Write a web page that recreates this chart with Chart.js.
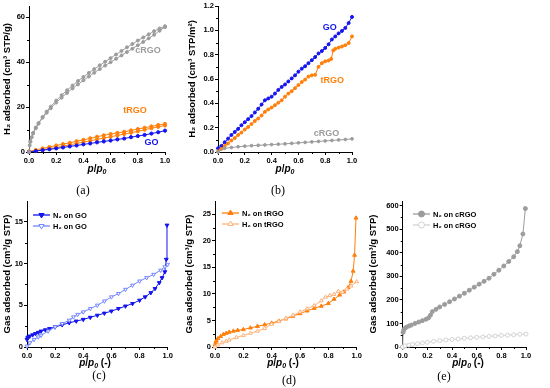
<!DOCTYPE html>
<html>
<head>
<meta charset="utf-8">
<script src="https://cdn.jsdelivr.net/npm/chart.js@4.4.0/dist/chart.umd.min.js"></script>
<style>
  body { margin: 0; background: #fff; width: 550px; height: 388px; position: relative; overflow: hidden;
         font-family: "Liberation Sans", Arial, sans-serif; }
  canvas { position: absolute; }
  .xt { position: absolute; font-weight: bold; font-size: 10px; line-height: 10px; white-space: nowrap;
        transform: translate(-50%, -50%); }
  .xt sub { font-size: 7px; vertical-align: -2px; }
  .cap { position: absolute; font-family: "Liberation Serif", serif; font-size: 12px; transform: translate(-50%, -50%); }
</style>
</head>
<body>
<canvas id="ca" width="175" height="163" style="left:0;top:0"></canvas>
<canvas id="cb" width="177" height="163" style="left:185px;top:0"></canvas>
<canvas id="cc" width="178" height="163" style="left:0;top:195px"></canvas>
<canvas id="cd" width="184" height="163" style="left:182px;top:195px"></canvas>
<canvas id="ce" width="170" height="163" style="left:366px;top:195px"></canvas>

<div class="xt" style="left:97px;top:170px"><i>p</i>/<i>p</i><sub><i>0</i></sub></div>
<div class="xt" style="left:285px;top:170px"><i>p</i>/<i>p</i><sub><i>0</i></sub></div>
<div class="xt" style="left:95px;top:364px"><i>p</i>/<i>p</i><sub><i>0</i></sub> (-)</div>
<div class="xt" style="left:283px;top:364px"><i>p</i>/<i>p</i><sub><i>0</i></sub> (-)</div>
<div class="xt" style="left:468px;top:364px"><i>p</i>/<i>p</i><sub><i>0</i></sub> (-)</div>

<div class="cap" style="left:83px;top:190px">(a)</div>
<div class="cap" style="left:278px;top:190px">(b)</div>
<div class="cap" style="left:99px;top:375px">(c)</div>
<div class="cap" style="left:289px;top:380px">(d)</div>
<div class="cap" style="left:444px;top:376px">(e)</div>

<script>
// --- dados ---

// tiques
const xTicks = [0, 0.2, 0.4, 0.6, 0.8, 1.0];
const aYTicks = [0, 20, 40, 60];
const bYTicks = [0, 0.2, 0.4, 0.6, 0.8, 1.0, 1.2];
const cYTicks = [0, 5, 10, 15];
const dYTicks = [0, 5, 10, 15, 20, 25];
const eYTicks = [0, 100, 200, 300, 400, 500, 600];

// (a) H2 em cm3 STP/g
const aCrgoAdsX = [0, 0.005, 0.01, 0.02, 0.03, 0.05, 0.07, 0.1, 0.13, 0.16, 0.2, 0.24, 0.28, 0.32, 0.36, 0.4, 0.44, 0.48, 0.52, 0.56, 0.6, 0.64, 0.68, 0.72, 0.76, 0.8, 0.84, 0.88, 0.92, 0.96, 1.0];
const aCrgoAdsY = [0, 3.0, 4.5, 6.6, 8.2, 10.6, 12.6, 15.3, 17.5, 19.5, 22.0, 24.2, 26.3, 28.3, 30.1, 31.9, 33.6, 35.3, 36.9, 38.5, 40.0, 41.5, 43.0, 44.5, 46.0, 47.5, 49.0, 50.6, 52.2, 54.0, 55.6];
const aCrgoDesX = [1.0, 0.96, 0.92, 0.88, 0.84, 0.8, 0.76, 0.72, 0.68, 0.64, 0.6, 0.56, 0.52, 0.48, 0.44, 0.4, 0.36, 0.32, 0.28, 0.24, 0.2, 0.16, 0.13, 0.1, 0.07, 0.05, 0.03, 0.01];
const aCrgoDesY = [56.0, 55.0, 53.8, 52.4, 51.0, 49.6, 48.1, 46.6, 45.0, 43.4, 41.8, 40.2, 38.6, 36.9, 35.2, 33.4, 31.6, 29.6, 27.5, 25.3, 22.9, 20.2, 18.0, 15.6, 12.9, 10.9, 8.5, 4.8];
const aX = [0, 0.05, 0.1, 0.15, 0.2, 0.25, 0.3, 0.35, 0.4, 0.45, 0.5, 0.55, 0.6, 0.65, 0.7, 0.75, 0.8, 0.85, 0.9, 0.95, 1.0];
const aTrgoY = [0.1, 0.5, 1.0, 1.5, 2.0, 2.6, 3.2, 3.8, 4.4, 5.0, 5.6, 6.2, 6.8, 7.4, 8.0, 8.6, 9.2, 9.9, 10.6, 11.2, 11.8];
const aTrgoDesY = [0.3, 0.9, 1.6, 2.2, 2.9, 3.5, 4.1, 4.8, 5.4, 6.1, 6.8, 7.4, 8.0, 8.5, 9.0, 9.6, 10.2, 10.8, 11.4, 12.0, 12.5];
const aGoY = [0, 0.4, 0.8, 1.2, 1.6, 2.0, 2.5, 2.9, 3.4, 3.8, 4.3, 4.7, 5.1, 5.6, 6.0, 6.6, 7.1, 7.6, 8.2, 8.8, 9.5];

// (b) H2 em cm3 STP/m2
const bGoX = [0, 0.025, 0.05, 0.075, 0.1, 0.125, 0.15, 0.175, 0.2, 0.225, 0.25, 0.275, 0.3, 0.325, 0.35, 0.375, 0.4, 0.425, 0.45, 0.475, 0.5, 0.525, 0.55, 0.575, 0.6, 0.625, 0.65, 0.675, 0.7, 0.725, 0.75, 0.775, 0.8, 0.825, 0.85, 0.875, 0.9, 0.925, 0.95, 0.975, 1.0];
const bGoY = [0.03, 0.05, 0.08, 0.11, 0.14, 0.165, 0.19, 0.22, 0.245, 0.27, 0.295, 0.325, 0.355, 0.39, 0.425, 0.44, 0.455, 0.48, 0.51, 0.535, 0.555, 0.58, 0.605, 0.63, 0.66, 0.685, 0.705, 0.73, 0.755, 0.78, 0.81, 0.83, 0.855, 0.885, 0.925, 0.95, 0.975, 0.995, 1.02, 1.06, 1.11];
const bTrgoX = [0, 0.025, 0.05, 0.075, 0.1, 0.125, 0.15, 0.175, 0.2, 0.225, 0.25, 0.275, 0.3, 0.325, 0.35, 0.375, 0.4, 0.425, 0.45, 0.475, 0.5, 0.525, 0.55, 0.575, 0.6, 0.625, 0.65, 0.675, 0.7, 0.725, 0.75, 0.775, 0.8, 0.825, 0.845, 0.86, 0.875, 0.9, 0.925, 0.95, 0.975, 1.0];
const bTrgoY = [0.005, 0.025, 0.05, 0.07, 0.095, 0.115, 0.14, 0.16, 0.185, 0.205, 0.23, 0.255, 0.275, 0.30, 0.33, 0.35, 0.365, 0.385, 0.405, 0.425, 0.455, 0.48, 0.50, 0.525, 0.55, 0.575, 0.595, 0.62, 0.63, 0.635, 0.70, 0.73, 0.745, 0.752, 0.765, 0.835, 0.848, 0.858, 0.867, 0.878, 0.895, 0.95];
const bCrgoX = [0, 0.05, 0.1, 0.15, 0.2, 0.25, 0.3, 0.35, 0.4, 0.45, 0.5, 0.55, 0.6, 0.65, 0.7, 0.75, 0.8, 0.85, 0.9, 0.95, 1.0];
const bCrgoY = [0, 0.03, 0.037, 0.043, 0.048, 0.052, 0.055, 0.058, 0.061, 0.064, 0.067, 0.071, 0.075, 0.079, 0.083, 0.087, 0.091, 0.095, 0.099, 0.103, 0.108];

// (c) GO
const cN2X = [0, 0.005, 0.01, 0.02, 0.04, 0.06, 0.08, 0.1, 0.13, 0.16, 0.2, 0.25, 0.3, 0.35, 0.4, 0.45, 0.5, 0.55, 0.6, 0.65, 0.7, 0.75, 0.8, 0.84, 0.88, 0.91, 0.94, 0.96, 0.98, 0.99, 0.995];
const cN2Y = [0.9, 1.1, 1.2, 1.3, 1.45, 1.6, 1.75, 1.9, 2.05, 2.2, 2.4, 2.65, 2.9, 3.1, 3.3, 3.55, 3.8, 4.05, 4.3, 4.6, 4.9, 5.2, 5.6, 6.0, 6.5, 7.0, 7.7, 8.3, 9.0, 10.5, 14.6];
const cH2X = [0, 0.02, 0.05, 0.08, 0.1, 0.15, 0.2, 0.25, 0.3, 0.33, 0.36, 0.4, 0.45, 0.5, 0.55, 0.6, 0.65, 0.7, 0.75, 0.8, 0.85, 0.9, 0.95, 0.98, 1.0];
const cH2Y = [0.1, 0.5, 0.9, 1.2, 1.4, 1.9, 2.4, 2.8, 3.2, 3.6, 3.9, 4.2, 4.6, 5.0, 5.5, 6.0, 6.4, 6.9, 7.4, 7.9, 8.3, 8.7, 9.2, 9.6, 9.9];

// (d) tRGO
const dN2X = [0, 0.005, 0.01, 0.02, 0.04, 0.06, 0.08, 0.1, 0.13, 0.16, 0.2, 0.25, 0.3, 0.35, 0.4, 0.45, 0.5, 0.55, 0.6, 0.65, 0.7, 0.75, 0.8, 0.84, 0.88, 0.91, 0.94, 0.96, 0.975, 0.985, 0.995];
const dN2Y = [0.4, 0.9, 1.2, 1.6, 2.0, 2.4, 2.6, 2.8, 3.0, 3.15, 3.3, 3.6, 3.9, 4.2, 4.5, 4.9, 5.3, 5.8, 6.3, 6.8, 7.3, 7.7, 8.2, 9.0, 9.8, 10.4, 11.2, 12.4, 14.3, 17.3, 24.3];
const dH2X = [0, 0.02, 0.05, 0.08, 0.1, 0.15, 0.2, 0.25, 0.3, 0.35, 0.4, 0.45, 0.5, 0.55, 0.6, 0.65, 0.7, 0.75, 0.78, 0.81, 0.84, 0.87, 0.9, 0.93, 0.96, 1.0];
const dH2Y = [0, 0.4, 0.8, 1.1, 1.3, 1.8, 2.2, 2.6, 3.0, 3.5, 4.3, 4.8, 5.4, 6.0, 6.6, 7.2, 7.8, 8.7, 9.4, 9.7, 9.9, 10.5, 10.3, 10.9, 11.5, 12.3];

// (e) cRGO
const eN2X = [0, 0.003, 0.008, 0.015, 0.03, 0.05, 0.07, 0.1, 0.13, 0.16, 0.19, 0.21, 0.225, 0.24, 0.27, 0.3, 0.34, 0.38, 0.42, 0.46, 0.5, 0.54, 0.58, 0.62, 0.66, 0.7, 0.74, 0.78, 0.82, 0.86, 0.9, 0.93, 0.95, 0.975, 0.995];
const eN2Y = [0, 62, 72, 78, 84, 89, 93, 100, 106, 112, 118, 124, 135, 150, 160, 170, 181, 192, 204, 216, 228, 241, 254, 267, 279, 292, 309, 326, 344, 363, 383, 405, 430, 480, 588];
const eH2X = [0, 0.02, 0.05, 0.08, 0.12, 0.16, 0.2, 0.25, 0.3, 0.35, 0.4, 0.45, 0.5, 0.55, 0.6, 0.65, 0.7, 0.75, 0.8, 0.85, 0.9, 0.95, 1.0];
const eH2Y = [0, 5, 8, 11, 14, 17, 20, 24, 27, 30, 32, 34, 37, 39, 41, 43, 45, 47, 49, 50, 52, 54, 55];

// --- cores ---
const AZUL = '#1414ee';
const AZUL_CLARO = '#7386ff';
const LARANJA = '#ff7f0a';
const LARANJA_CLARO = '#ffb27a';
const CINZA = '#9c9c9c';
const CINZA_CLARO = '#d2d2d2';

function pts(xs, ys) { return xs.map((x, i) => ({ x: x, y: ys[i] })); }

// tiques menores entre os principais
const minorTicks = {
  id: 'minorTicks',
  afterDraw(chart) {
    const ctx = chart.ctx;
    ctx.save();
    ctx.strokeStyle = '#000';
    ctx.lineWidth = 1;
    ['x', 'y'].forEach(k => {
      const s = chart.scales[k];
      const t = s.ticks;
      for (let i = 0; i < t.length - 1; i++) {
        const px = Math.round(s.getPixelForValue((t[i].value + t[i + 1].value) / 2)) + 0.5;
        ctx.beginPath();
        if (k === 'x') { ctx.moveTo(px, s.top); ctx.lineTo(px, s.top + 2); }
        else { ctx.moveTo(s.right, px); ctx.lineTo(s.right - 2, px); }
        ctx.stroke();
      }
    });
    ctx.restore();
  }
};

// nomes das curvas dentro do gráfico (a) e (b)
const curveLabels = {
  id: 'curveLabels',
  afterDatasetsDraw(chart, args, opts) {
    const items = opts.items || [];
    const ctx = chart.ctx;
    ctx.save();
    ctx.font = 'bold 9px "Liberation Sans", Arial, sans-serif';
    ctx.textAlign = 'center';
    ctx.textBaseline = 'middle';
    items.forEach(it => {
      ctx.fillStyle = it.color;
      ctx.fillText(it.text, chart.scales.x.getPixelForValue(it.x), chart.scales.y.getPixelForValue(it.y));
    });
    ctx.restore();
  }
};

// legenda pequena com linha + marcador
const miniLegend = {
  id: 'miniLegend',
  afterDraw(chart, args, opts) {
    if (!opts.items) return;
    const ctx = chart.ctx;
    ctx.save();
    opts.items.forEach((it, i) => {
      const ds = chart.data.datasets[it.index];
      const y = opts.y + i * opts.gap;
      ctx.strokeStyle = ds.borderColor;
      ctx.lineWidth = 1.3;
      ctx.beginPath();
      ctx.moveTo(opts.x, y);
      ctx.lineTo(opts.x + 17, y);
      ctx.stroke();
      ctx.fillStyle = ds.pointBackgroundColor;
      ctx.lineWidth = 1;
      Chart.helpers.drawPoint(ctx, {
        pointStyle: ds.pointStyle, rotation: ds.pointRotation || 0, radius: 3, borderWidth: 1
      }, opts.x + 8.5, y);
      ctx.fillStyle = '#000';
      ctx.font = 'bold 7.5px "Liberation Sans", Arial, sans-serif';
      ctx.textBaseline = 'middle';
      ctx.textAlign = 'left';
      ctx.fillText(it.text, opts.x + 20, y + 0.5);
    });
    ctx.restore();
  }
};

const fonteTique = { family: '"Liberation Sans", Arial, sans-serif', size: 7.5, weight: 'bold' };
const fonteTitulo = { family: '"Liberation Sans", Arial, sans-serif', size: 9.5, weight: 'bold' };

function fixarTiques(lista) {
  return s => { s.ticks = lista.map(v => ({ value: v })); };
}

function opcoes(p) {
  return {
    responsive: false,
    animation: false,
    devicePixelRatio: 1,
    layout: { padding: { top: 6, right: p.right, left: 0, bottom: 0 } },
    plugins: {
      legend: { display: false },
      tooltip: { enabled: false },
      curveLabels: { items: p.labels || [] },
      miniLegend: p.legend || {}
    },
    scales: {
      x: {
        type: 'linear', min: 0, max: 1,
        ticks: { font: fonteTique, color: '#000', padding: 1, maxRotation: 0,
                 callback: v => v.toFixed(1) },
        grid: { drawOnChartArea: false, tickLength: 3, color: '#000' },
        border: { color: '#000', width: 1 },
        afterBuildTicks: fixarTiques(xTicks),
        afterFit: s => { s.height = p.xh; }
      },
      y: {
        type: 'linear', min: 0, max: p.ymax,
        ticks: { font: fonteTique, color: '#000', padding: 1,
                 callback: v => p.ydec ? v.toFixed(p.ydec) : v },
        grid: { drawOnChartArea: false, tickLength: 3, color: '#000' },
        border: { color: '#000', width: 1 },
        title: { display: true, text: p.ytitle, font: fonteTitulo, color: '#000', padding: { top: 2, bottom: 0 } },
        afterBuildTicks: fixarTiques(p.yticks),
        afterFit: s => { s.width = p.yw; }
      }
    }
  };
}

function serie(data, cor, fundo, estilo, raio, rot) {
  return {
    data: data, showLine: true, borderColor: cor, borderWidth: 1, backgroundColor: cor,
    pointBackgroundColor: fundo, pointBorderColor: cor, pointBorderWidth: 1,
    pointStyle: estilo, pointRadius: raio, pointRotation: rot || 0, clip: false
  };
}

Chart.register(minorTicks, curveLabels, miniLegend);

// (a)
new Chart(document.getElementById('ca'), {
  type: 'scatter',
  data: { datasets: [
    serie(pts(aCrgoAdsX, aCrgoAdsY), CINZA, CINZA, 'circle', 1.5),
    serie(pts(aCrgoDesX, aCrgoDesY), CINZA, CINZA, 'circle', 1.5),
    serie(pts(aX, aGoY), AZUL, AZUL, 'circle', 1.6),
    serie(pts(aX, aTrgoY), LARANJA, LARANJA, 'circle', 1.6),
    serie(pts(aX, aTrgoDesY), LARANJA, LARANJA, 'circle', 1.6)
  ] },
  options: opcoes({ right: 10, xh: 11, yw: 29, ymax: 65, yticks: aYTicks, ytitle: 'H₂ adsorbed (cm³ STP/g)',
    labels: [
      { text: 'cRGO', x: 0.875, y: 45, color: CINZA },
      { text: 'tRGO', x: 0.78, y: 18.3, color: LARANJA },
      { text: 'GO', x: 0.9, y: 4, color: AZUL }
    ] })
});

// (b)
new Chart(document.getElementById('cb'), {
  type: 'scatter',
  data: { datasets: [
    serie(pts(bCrgoX, bCrgoY), CINZA, CINZA, 'circle', 1.4),
    serie(pts(bTrgoX, bTrgoY), LARANJA, LARANJA, 'circle', 1.5),
    serie(pts(bGoX, bGoY), AZUL, AZUL, 'circle', 1.5)
  ] },
  options: opcoes({ right: 10, xh: 11, yw: 33, ymax: 1.2, yticks: bYTicks, ydec: 1, ytitle: 'H₂ adsorbed (cm³ STP/m²)',
    labels: [
      { text: 'GO', x: 0.834, y: 1.02, color: AZUL },
      { text: 'tRGO', x: 0.853, y: 0.59, color: LARANJA },
      { text: 'cRGO', x: 0.81, y: 0.148, color: CINZA }
    ] })
});

// (c)
new Chart(document.getElementById('cc'), {
  type: 'scatter',
  data: { datasets: [
    serie(pts(cH2X, cH2Y), AZUL_CLARO, '#fff', 'triangle', 2.2, 180),
    serie(pts(cN2X, cN2Y), AZUL, AZUL, 'triangle', 2.2, 180)
  ] },
  options: opcoes({ right: 10.3, xh: 11, yw: 27, ymax: 17.5, yticks: cYTicks, ytitle: 'Gas adsorbed (cm³/g STP)',
    legend: { x: 33, y: 20, gap: 11, items: [{ index: 1, text: 'N₂ on GO' }, { index: 0, text: 'H₂ on GO' }] } })
});

// (d)
new Chart(document.getElementById('cd'), {
  type: 'scatter',
  data: { datasets: [
    serie(pts(dH2X, dH2Y), LARANJA_CLARO, '#fff', 'triangle', 2.2),
    serie(pts(dN2X, dN2Y), LARANJA, LARANJA, 'triangle', 2.2)
  ] },
  options: opcoes({ right: 9.3, xh: 11, yw: 33, ymax: 27.5, yticks: dYTicks, ytitle: 'Gas adsorbed (cm³/g STP)',
    legend: { x: 40, y: 18, gap: 11, items: [{ index: 1, text: 'N₂ on tRGO' }, { index: 0, text: 'H₂ on tRGO' }] } })
});

// (e)
new Chart(document.getElementById('ce'), {
  type: 'scatter',
  data: { datasets: [
    serie(pts(eH2X, eH2Y), CINZA_CLARO, '#fff', 'circle', 2),
    serie(pts(eN2X, eN2Y), CINZA, CINZA, 'circle', 2)
  ] },
  options: opcoes({ right: 10, xh: 11, yw: 36.7, ymax: 620, yticks: eYTicks, ytitle: 'Gas adsorbed (cm³/g STP)',
    legend: { x: 47, y: 19, gap: 11, items: [{ index: 1, text: 'N₂ on cRGO' }, { index: 0, text: 'H₂ on cRGO' }] } })
});
</script>
</body>
</html>
